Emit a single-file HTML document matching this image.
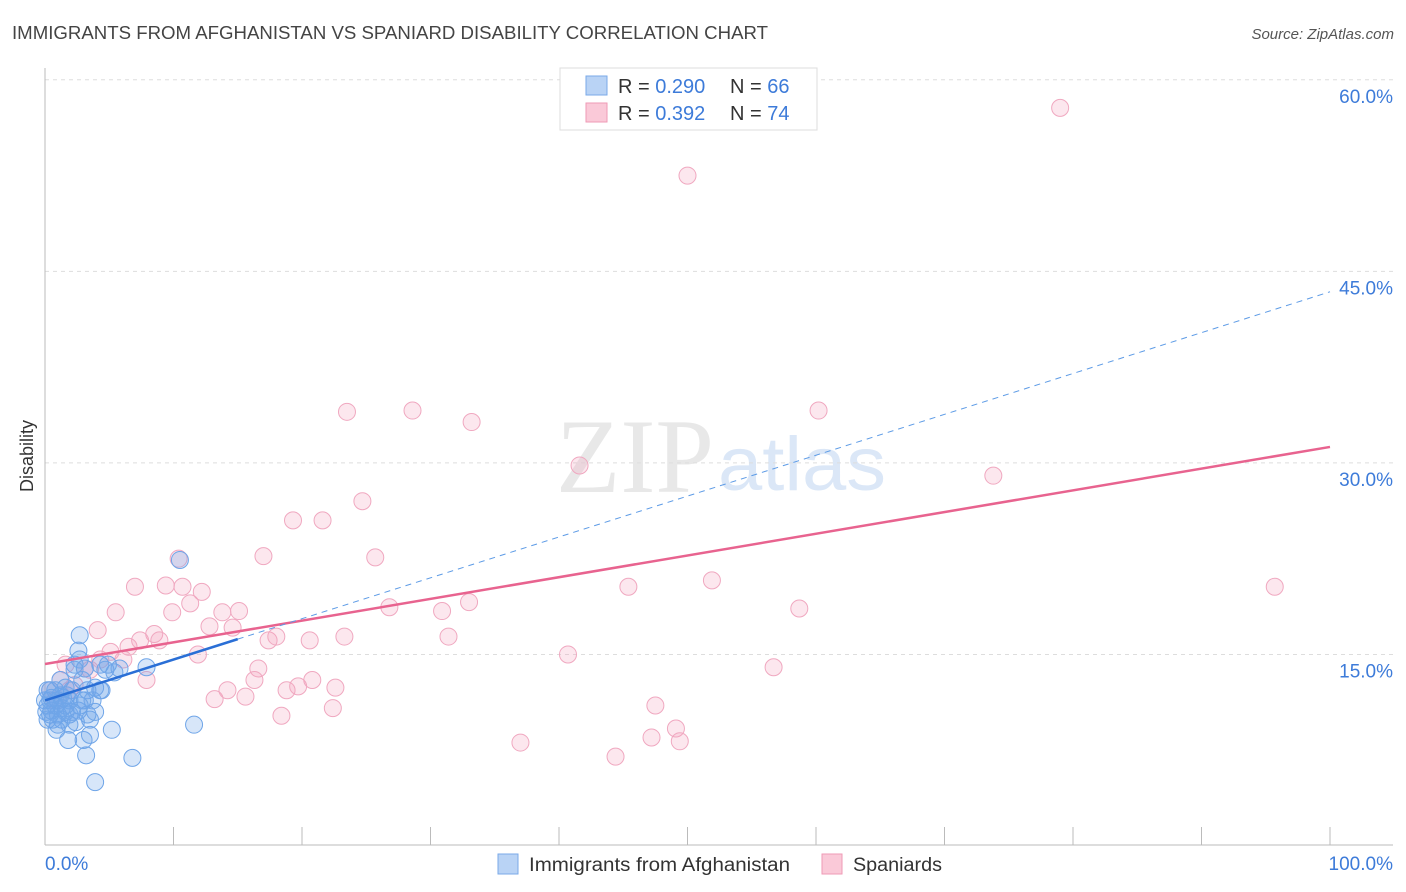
<!DOCTYPE html>
<html><head><meta charset="utf-8"><style>
body{margin:0;background:#fff;font-family:"Liberation Sans",sans-serif}
svg{display:block}
</style></head><body>
<svg id="chart" width="1406" height="892">
<text x="12" y="39" font-size="18" fill="#444" textLength="756" lengthAdjust="spacingAndGlyphs">IMMIGRANTS FROM AFGHANISTAN VS SPANIARD DISABILITY CORRELATION CHART</text>
<text x="1394" y="39" font-size="15" fill="#555" font-style="italic" text-anchor="end">Source: ZipAtlas.com</text>
<text x="33" y="456" font-size="18" fill="#333" text-anchor="middle" transform="rotate(-90 33 456)">Disability</text>
<g>
<text x="556" y="492" font-size="106" fill="#e8e8e8" font-family="Liberation Serif,serif" textLength="158" lengthAdjust="spacingAndGlyphs">ZIP</text>
<text x="718" y="490" font-size="76" fill="#dbe7f7" textLength="168" lengthAdjust="spacingAndGlyphs">atlas</text>
</g>
<g id="grid"></g><g id="axes"></g><g id="pts"></g><g id="lines"></g>
<g>
<rect x="560" y="68" width="257" height="62" fill="#fff" stroke="#ddd"/>
<rect x="586" y="76" width="21" height="19" fill="#b9d3f5" stroke="#7aaae8"/>
<rect x="586" y="103" width="21" height="19" fill="#fac9d8" stroke="#ef9ab6"/>
<text x="618" y="93" font-size="20" fill="#333">R = <tspan fill="#3d7bd9">0.290</tspan></text>
<text x="730" y="93" font-size="20" fill="#333">N = <tspan fill="#3d7bd9">66</tspan></text>
<text x="618" y="120" font-size="20" fill="#333">R =  <tspan fill="#3d7bd9">0.392</tspan></text>
<text x="730" y="120" font-size="20" fill="#333">N = <tspan fill="#3d7bd9">74</tspan></text>
</g>
<g>
<rect x="498" y="854" width="20" height="20" fill="#b9d3f5" stroke="#7aaae8"/>
<text x="529" y="871" font-size="19" fill="#333" textLength="261" lengthAdjust="spacingAndGlyphs">Immigrants from Afghanistan</text>
<rect x="822" y="854" width="20" height="20" fill="#fac9d8" stroke="#ef9ab6"/>
<text x="853" y="871" font-size="19" fill="#333" textLength="89" lengthAdjust="spacingAndGlyphs">Spaniards</text>
</g>
</svg>
<script>
const blueX=[0.2,0.4,0.5,0.8,1.0,1.2,1.3,1.6,1.8,1.9,2.1,2.3,2.6,2.7,2.7,2.9,3.0,3.1,3.2,3.3,3.5,3.7,3.9,3.9,4.3,4.4,4.7,4.9,5.2,5.4,5.8,6.8,7.9,10.5,11.6,0.2,0.4,0.8,1.0,1.4,1.6,1.9,2.3,2.6,2.9,3.3,3.5,1.2,1.6,2.1,2.4,1.0,0.6,0.2,1.3,1.7,2.7,3.1,3.9,4.3,0.4,0.9,1.9,0.0,0.1,0.5];
const blueY=[12.2,11.4,10.6,11.0,10.3,11.8,9.9,10.5,8.3,11.4,12.2,13.8,15.3,16.5,14.6,13.0,8.3,11.4,7.1,10.3,8.7,11.4,10.5,5.0,14.2,12.2,13.8,14.2,9.1,13.6,13.9,6.9,14.0,22.4,9.5,11.0,10.3,12.2,9.5,11.6,11.0,10.3,14.2,10.6,11.4,12.2,9.9,13.0,12.4,10.5,9.7,11.4,9.9,9.9,10.8,11.8,11.0,13.9,12.4,12.2,12.2,9.1,9.5,11.4,10.5,11.6];
const pinkX=[79.0,50.0,23.5,28.6,33.2,60.2,41.6,73.8,24.7,19.3,21.6,10.4,17.0,25.7,7.0,9.4,10.7,12.2,45.4,51.9,95.7,5.5,9.9,11.3,13.8,15.1,26.8,30.9,33.0,58.7,4.1,6.5,8.5,8.9,12.8,14.6,17.4,18.0,20.6,23.3,31.4,7.4,11.9,5.1,6.1,3.1,4.3,7.9,16.6,16.3,40.7,56.7,13.2,14.2,15.6,18.8,19.7,20.8,22.6,18.4,22.4,47.5,49.1,47.2,49.4,37.0,44.4,1.2,1.9,1.6,2.3,0.8,3.5,0.4];
const pinkY=[57.8,52.5,34.0,34.1,33.2,34.1,29.8,29.0,27.0,25.5,25.5,22.5,22.7,22.6,20.3,20.4,20.3,19.9,20.3,20.8,20.3,18.3,18.3,19.0,18.3,18.4,18.7,18.4,19.1,18.6,16.9,15.6,16.6,16.1,17.2,17.1,16.1,16.4,16.1,16.4,16.4,16.1,15.0,15.2,14.6,13.9,14.6,13.0,13.9,13.0,15.0,14.0,11.5,12.2,11.7,12.2,12.5,13.0,12.4,10.2,10.8,11.0,9.2,8.5,8.2,8.1,7.0,13.0,12.2,14.2,12.6,11.4,13.8,12.2];
const yTicks=[15,30,45,60];
const yTickLabels=["15.0%","30.0%","45.0%","60.0%"];
const blueFit=[11.4,0.32];
const pinkFit=[14.25,0.17];
const NS="http://www.w3.org/2000/svg";
const X=v=>45+v*12.85, Y=v=>846-v*12.77;
function mk(tag,attrs,parent){const e=document.createElementNS(NS,tag);for(const k in attrs)e.setAttribute(k,attrs[k]);parent.appendChild(e);return e;}
const grid=document.getElementById('grid'),axes=document.getElementById('axes'),pts=document.getElementById('pts'),lines=document.getElementById('lines');
yTicks.forEach((t,i)=>{
 const l=mk('line',{x1:45,x2:1393,y1:Y(t),y2:Y(t),stroke:'#ddd','stroke-dasharray':'4,4'},grid);
 
 
 const tx=mk('text',{x:1393,y:Y(t)+23,'font-size':19,fill:'#3d7bd9','text-anchor':'end'},axes);
 tx.textContent=yTickLabels[i];
 
 
});
mk('line',{x1:45,x2:1393,y1:845,y2:845,stroke:'#bbb'},axes);
mk('line',{x1:45,x2:45,y1:68,y2:845,stroke:'#bbb'},axes);
for(let i=1;i<=10;i++){const t=mk('line',{x1:X(i*10),x2:X(i*10),y1:827,y2:845,stroke:'#bbb'},axes);}
[['0.0%',45,'start'],['100.0%',1393,'end']].forEach(a=>{const t=mk('text',{x:a[1],y:870,'font-size':19,fill:'#3d7bd9','text-anchor':a[2]},axes);t.textContent=a[0];});
pinkX.forEach((x,i)=>{const c=mk('circle',{cx:X(x),cy:Y(pinkY[i]),r:8.5,fill:'rgba(244,160,188,0.25)',stroke:'#f0a8c0','stroke-width':1},pts);
 
 });
blueX.forEach((x,i)=>{const c=mk('circle',{cx:X(x),cy:Y(blueY[i]),r:8.5,fill:'rgba(110,165,232,0.28)',stroke:'#6fa5e8','stroke-width':1},pts);
 
 });
const pl=mk('line',{x1:X(0),y1:Y(pinkFit[0]),x2:X(100),y2:Y(pinkFit[0]+pinkFit[1]*100),stroke:'#e8638f','stroke-width':2.5},lines);

const bd=mk('line',{x1:X(15),y1:Y(blueFit[0]+blueFit[1]*15),x2:X(100),y2:Y(blueFit[0]+blueFit[1]*100),stroke:'#5d9be6','stroke-width':1,'stroke-dasharray':'6,5'},lines);

const bl=mk('line',{x1:X(0),y1:Y(blueFit[0]),x2:X(15),y2:Y(blueFit[0]+blueFit[1]*15),stroke:'#2a6fd6','stroke-width':2.5},lines);

</script>
</body></html>
